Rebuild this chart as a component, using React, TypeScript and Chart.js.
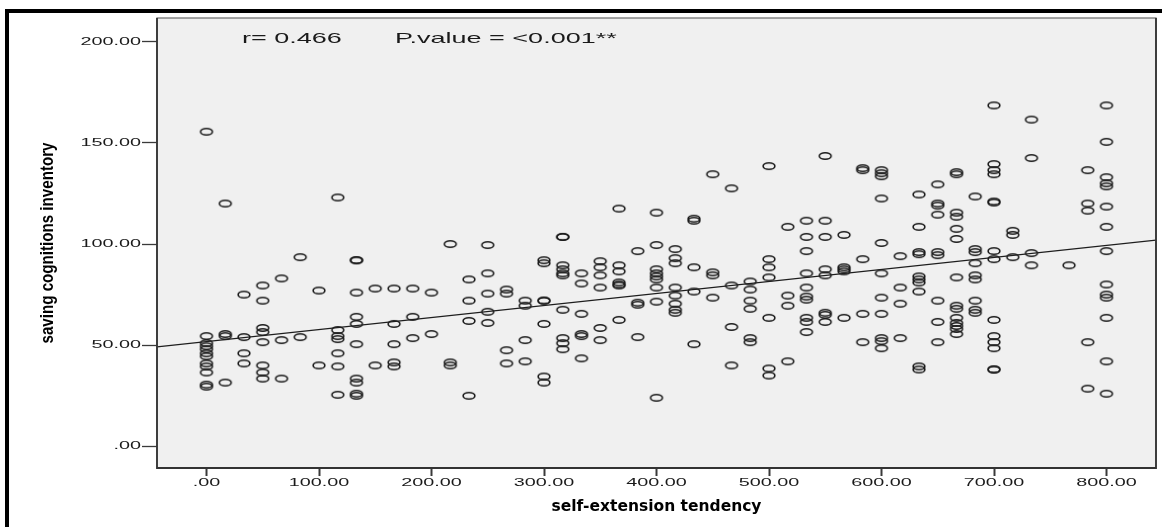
import React, { useEffect, useRef } from 'react';
import { Chart, registerables } from 'chart.js';

Chart.register(...registerables);

// ---------- texts ----------
const X_TITLE = 'self-extension tendency';
const Y_TITLE = 'saving cognitions inventory';
const R_TEXT = 'r= 0.466';
const P_TEXT = 'P.value = <0.001**';

// ---------- axes ----------
const X_MIN = -44;
const X_MAX = 844;
const Y_MIN = -10.7;
const Y_MAX = 211.7;
const X_TICKS = [0, 100, 200, 300, 400, 500, 600, 700, 800];
const X_TICK_LABELS = ['.00', '100.00', '200.00', '300.00', '400.00', '500.00', '600.00', '700.00', '800.00'];
const Y_TICKS = [0, 50, 100, 150, 200];
const Y_TICK_LABELS = ['.00', '50.00', '100.00', '150.00', '200.00'];

// ---------- fit line (as drawn in the reference) ----------
const FIT_INTERCEPT = 51.8;
const FIT_SLOPE = 0.0594;

// ---------- observations: [self-extension tendency, saving cognitions inventory] ----------
const observations: Array<[number, number]> = [
  [0, 155.5], [0, 54.5], [0, 51], [0, 49.5], [0, 48], [0, 46], [0, 44.5], [0, 41], [0, 39.5], [0, 36.5], [0, 30.5], [0, 29.5],
  [16.67, 120], [16.67, 55.5], [16.67, 54.5], [16.67, 31.5],
  [33.33, 75], [33.33, 54], [33.33, 46], [33.33, 41],
  [50, 79.5], [50, 72], [50, 58.5], [50, 56.5], [50, 51.5], [50, 40], [50, 36.5], [50, 33.5],
  [66.67, 83], [66.67, 52.5], [66.67, 33.5],
  [83.33, 93.5], [83.33, 54],
  [100, 77], [100, 40],
  [116.67, 123], [116.67, 57.5], [116.67, 54.5], [116.67, 53], [116.67, 46], [116.67, 39.5], [116.67, 25.5],
  [133.33, 92], [133.33, 92], [133.33, 76], [133.33, 64], [133.33, 60.5], [133.33, 50.5], [133.33, 33.5], [133.33, 31.5], [133.33, 26], [133.33, 25],
  [150, 78], [150, 40],
  [166.67, 78], [166.67, 60.5], [166.67, 50.5], [166.67, 41.5], [166.67, 39.5],
  [183.33, 78], [183.33, 64], [183.33, 53.5],
  [200, 76], [200, 55.5],
  [216.67, 100], [216.67, 41.5], [216.67, 40],
  [233.33, 82.5], [233.33, 72], [233.33, 62], [233.33, 25],
  [250, 99.5], [250, 85.5], [250, 75.5], [250, 66.5], [250, 61],
  [266.67, 77.5], [266.67, 75.5], [266.67, 47.5], [266.67, 41],
  [283.33, 72], [283.33, 69.5], [283.33, 52.5], [283.33, 42],
  [300, 92], [300, 90.5], [300, 72], [300, 72], [300, 60.5], [300, 34.5], [300, 31.5],
  [316.67, 103.5], [316.67, 103.5], [316.67, 89.5], [316.67, 87.5], [316.67, 85.5], [316.67, 84.5], [316.67, 67.5], [316.67, 53.5], [316.67, 51], [316.67, 48],
  [333.33, 85.5], [333.33, 80.5], [333.33, 65.5], [333.33, 55.5], [333.33, 54.5], [333.33, 43.5],
  [350, 91.5], [350, 88.5], [350, 84.5], [350, 78.5], [350, 58.5], [350, 52.5],
  [366.67, 117.5], [366.67, 89.5], [366.67, 86.5], [366.67, 81], [366.67, 80], [366.67, 79.5], [366.67, 62.5],
  [383.33, 96.5], [383.33, 71], [383.33, 70], [383.33, 54],
  [400, 115.5], [400, 99.5], [400, 87.5], [400, 85.5], [400, 84], [400, 82.5], [400, 78.5], [400, 71.5], [400, 24],
  [416.67, 97.5], [416.67, 93], [416.67, 90.5], [416.67, 78.5], [416.67, 74.5], [416.67, 70.5], [416.67, 67.5], [416.67, 66],
  [433.33, 112.5], [433.33, 111.5], [433.33, 88.5], [433.33, 76.5], [433.33, 50.5],
  [450, 134.5], [450, 86], [450, 84.5], [450, 73.5],
  [466.67, 127.5], [466.67, 79.5], [466.67, 59], [466.67, 40],
  [483.33, 81.5], [483.33, 77.5], [483.33, 72], [483.33, 68], [483.33, 53.5], [483.33, 51.5],
  [500, 138.5], [500, 92.5], [500, 88.5], [500, 83.5], [500, 63.5], [500, 38.5], [500, 35],
  [516.67, 108.5], [516.67, 74.5], [516.67, 69.5], [516.67, 42],
  [533.33, 111.5], [533.33, 103.5], [533.33, 96.5], [533.33, 85.5], [533.33, 78.5], [533.33, 74], [533.33, 72.5], [533.33, 63.5], [533.33, 61.5], [533.33, 56.5],
  [550, 143.5], [550, 111.5], [550, 103.5], [550, 87.5], [550, 84.5], [550, 66], [550, 65], [550, 61.5],
  [566.67, 104.5], [566.67, 88.5], [566.67, 87.5], [566.67, 86.5], [566.67, 63.5],
  [583.33, 137.5], [583.33, 136.5], [583.33, 92.5], [583.33, 65.5], [583.33, 51.5],
  [600, 136.5], [600, 135], [600, 133.5], [600, 122.5], [600, 100.5], [600, 85.5], [600, 73.5], [600, 65.5], [600, 53.5], [600, 52], [600, 48.5],
  [616.67, 94], [616.67, 78.5], [616.67, 70.5], [616.67, 53.5],
  [633.33, 124.5], [633.33, 108.5], [633.33, 96], [633.33, 95], [633.33, 84], [633.33, 82.5], [633.33, 81], [633.33, 76.5], [633.33, 39.5], [633.33, 38],
  [650, 129.5], [650, 120], [650, 119], [650, 114.5], [650, 96], [650, 94.5], [650, 72], [650, 61.5], [650, 51.5],
  [666.67, 135.5], [666.67, 134.5], [666.67, 115.5], [666.67, 113.5], [666.67, 107.5], [666.67, 102.5], [666.67, 83.5], [666.67, 69.5], [666.67, 68], [666.67, 63.5], [666.67, 61], [666.67, 59.5], [666.67, 58], [666.67, 55.5],
  [683.33, 123.5], [683.33, 97.5], [683.33, 96], [683.33, 90.5], [683.33, 84.5], [683.33, 82.5], [683.33, 72], [683.33, 67.5], [683.33, 66],
  [700, 168.5], [700, 139.5], [700, 136.5], [700, 134.5], [700, 121], [700, 120.5], [700, 96.5], [700, 92.5], [700, 62.5], [700, 54.5], [700, 51.5], [700, 48.5], [700, 38], [700, 38],
  [716.67, 106.5], [716.67, 104.5], [716.67, 93.5],
  [733.33, 161.5], [733.33, 142.5], [733.33, 95.5], [733.33, 89.5],
  [766.67, 89.5],
  [783.33, 136.5], [783.33, 120], [783.33, 116.5], [783.33, 51.5], [783.33, 28.5],
  [800, 168.5], [800, 150.5], [800, 133], [800, 130], [800, 128.5], [800, 118.5], [800, 108.5], [800, 96.5], [800, 80], [800, 75], [800, 73.5], [800, 63.5], [800, 42], [800, 26],
];

const STRETCH = 1.8; // the reference's chart text is horizontally widened
const TEXT_FONT = '"Liberation Sans", Arial, sans-serif';

function stretchedText(ctx: CanvasRenderingContext2D, text: string, x: number, y: number, align: CanvasTextAlign, size: number) {
  ctx.save();
  ctx.translate(x, y);
  ctx.scale(STRETCH, 1);
  ctx.font = `${size}px ${TEXT_FONT}`;
  ctx.textAlign = align;
  ctx.textBaseline = 'middle';
  ctx.fillText(text, 0, 0);
  ctx.restore();
}

const decorPlugin = {
  id: 'decor',
  beforeDraw(chart: any) {
    const { ctx, chartArea: a } = chart;
    ctx.save();
    ctx.fillStyle = '#f0f0f0';
    ctx.fillRect(a.left, a.top, a.right - a.left, a.bottom - a.top);
    ctx.restore();
  },
  afterDraw(chart: any) {
    const { ctx, chartArea: a, scales } = chart;
    ctx.save();
    // plot frame
    ctx.strokeStyle = '#6a6a6a';
    ctx.lineWidth = 1.2;
    ctx.strokeRect(a.left, a.top, a.right - a.left, a.bottom - a.top);
    ctx.strokeStyle = '#333';
    ctx.lineWidth = 1.8;
    ctx.beginPath();
    ctx.moveTo(a.left, a.top);
    ctx.lineTo(a.left, a.bottom);
    ctx.lineTo(a.right, a.bottom);
    ctx.lineTo(a.right, a.top);
    ctx.stroke();

    // tick labels
    ctx.fillStyle = '#1a1a1a';
    scales.x.ticks.forEach((t: any, i: number) => {
      const px = scales.x.getPixelForValue(t.value);
      stretchedText(ctx, X_TICK_LABELS[i], px, a.bottom + 14.5, 'center', 11);
    });
    scales.y.ticks.forEach((t: any, i: number) => {
      const py = scales.y.getPixelForValue(t.value);
      stretchedText(ctx, Y_TICK_LABELS[i], a.left - 16, py, 'right', 11);
    });

    // r and p annotation
    stretchedText(ctx, R_TEXT, 242, 38.8, 'left', 15);
    stretchedText(ctx, P_TEXT, 395, 38.8, 'left', 15);

    // y title (narrow bold, rotated)
    ctx.translate(48, (a.top + a.bottom) / 2);
    ctx.rotate(-Math.PI / 2);
    ctx.font = `bold 19px ${TEXT_FONT}`;
    const w = ctx.measureText(Y_TITLE).width;
    ctx.scale(201 / w, 1);
    ctx.fillStyle = '#000';
    ctx.textAlign = 'center';
    ctx.textBaseline = 'middle';
    ctx.fillText(Y_TITLE, 0, 0);
    ctx.restore();
  },
};

export default function App() {
  const ref = useRef<HTMLCanvasElement>(null);

  useEffect(() => {
    const canvas = ref.current;
    if (!canvas) return;

    const marker = document.createElement('canvas');
    marker.width = 16;
    marker.height = 10;
    const m = marker.getContext('2d')!;
    m.strokeStyle = '#1c1c1c';
    m.lineWidth = 1.6;
    m.beginPath();
    m.ellipse(8, 5, 5.9, 3.3, 0, 0, Math.PI * 2);
    m.stroke();

    const fitLine = [X_MIN, X_MAX].map((x) => ({ x, y: FIT_INTERCEPT + FIT_SLOPE * x }));

    const chart = new Chart(canvas, {
      type: 'scatter',
      data: {
        datasets: [
          {
            label: 'fit',
            data: fitLine,
            showLine: true,
            borderColor: '#1e1e1e',
            borderWidth: 1.2,
            pointRadius: 0,
            order: 0,
          },
          {
            label: 'observations',
            data: observations.map(([x, y]) => ({ x, y })),
            pointStyle: marker as any,
            pointRadius: 5,
            order: 1,
          },
        ],
      },
      options: {
        responsive: false,
        animation: false,
        devicePixelRatio: 1,
        layout: { padding: { top: 18, right: 4, left: 0, bottom: 0 } },
        plugins: { legend: { display: false }, tooltip: { enabled: false } },
        scales: {
          x: {
            type: 'linear',
            min: X_MIN,
            max: X_MAX,
            afterBuildTicks: (s: any) => {
              s.ticks = X_TICKS.map((value) => ({ value }));
            },
            afterFit: (s: any) => {
              s.height = 59;
            },
            ticks: { display: false },
            grid: { display: true, drawOnChartArea: false, drawTicks: true, tickLength: 8, tickWidth: 2, tickColor: '#3a3a3a' },
            border: { display: false },
            title: {
              display: true,
              text: X_TITLE,
              color: '#000',
              font: { family: 'DejaVu Sans', weight: 'bold', size: 15.5 },
              padding: { top: 0, bottom: 11 },
            },
          },
          y: {
            type: 'linear',
            min: Y_MIN,
            max: Y_MAX,
            afterBuildTicks: (s: any) => {
              s.ticks = Y_TICKS.map((value) => ({ value }));
            },
            afterFit: (s: any) => {
              s.width = 157;
            },
            ticks: { display: false },
            grid: { display: true, drawOnChartArea: false, drawTicks: true, tickLength: 15, tickWidth: 1.3, tickColor: '#3a3a3a' },
            border: { display: false },
          },
        },
      },
      plugins: [decorPlugin],
    });

    return () => chart.destroy();
  }, []);

  return (
    <div style={{ position: 'fixed', left: 0, top: 0, width: 1162, height: 527, overflow: 'hidden', background: '#fff' }}>
      <canvas ref={ref} width={1162} height={527} style={{ position: 'absolute', left: 0, top: 0 }} />
      <div
        style={{
          position: 'absolute',
          left: 5,
          top: 9,
          width: 1300,
          height: 700,
          border: '4px solid #000',
          boxSizing: 'border-box',
          pointerEvents: 'none',
        }}
      />
    </div>
  );
}
